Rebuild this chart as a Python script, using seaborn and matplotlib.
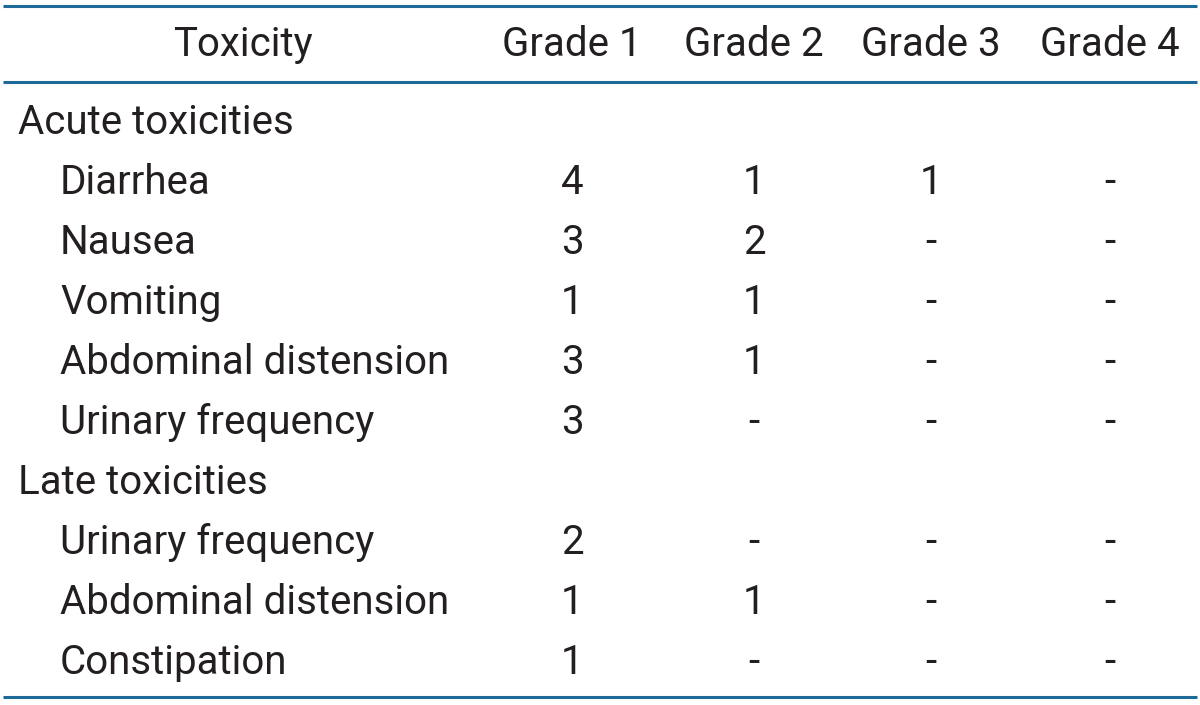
import matplotlib.pyplot as plt
import seaborn as sns
import numpy as np

# Dados da tabela
header = ['Toxicity', 'Grade 1', 'Grade 2', 'Grade 3', 'Grade 4']
sections = ['Acute toxicities', 'Late toxicities']
acute_items = ['Diarrhea', 'Nausea', 'Vomiting', 'Abdominal distension', 'Urinary frequency']
acute_values = [['4', '1', '1', '-'],
                ['3', '2', '-', '-'],
                ['1', '1', '-', '-'],
                ['3', '1', '-', '-'],
                ['3', '-', '-', '-']]
late_items = ['Urinary frequency', 'Abdominal distension', 'Constipation']
late_values = [['2', '-', '-', '-'],
               ['1', '1', '-', '-'],
               ['1', '-', '-', '-']]

sns.set_theme(style='white')
plt.rcParams['font.family'] = ['Roboto', 'DejaVu Sans']

text_color = '#231f20'
line_color = '#1d6a98'
fs = 29

fig = plt.figure(figsize=(12, 7.05), dpi=100)
ax = fig.add_axes([0, 0, 1, 1])
ax.set_xlim(0, 1200)
ax.set_ylim(705, 0)
ax.axis('off')

col_x = [243, 572, 754, 931, 1110]
header_y = 45
row0_y = 123
row_h = 59.9

# cabeçalho
for x, h in zip(col_x, header):
    ax.text(x, header_y, h, ha='center', va='center', fontsize=fs, color=text_color)

rows = [(sections[0], None, True)]
rows += [(n, v, False) for n, v in zip(acute_items, acute_values)]
rows += [(sections[1], None, True)]
rows += [(n, v, False) for n, v in zip(late_items, late_values)]

for i, (name, vals, is_section) in enumerate(rows):
    y = row0_y + i * row_h
    x0 = 18 if is_section else 60
    ax.text(x0, y, name, ha='left', va='center', fontsize=fs, color=text_color)
    if vals is not None:
        for x, v in zip(col_x[1:], vals):
            ax.text(x, y, v, ha='center', va='center', fontsize=fs, color=text_color)

for y in [6, 82, 697]:
    ax.plot([3, 1197], [y, y], color=line_color, lw=2.2, solid_capstyle='butt')

plt.savefig('out.png', dpi=100)
